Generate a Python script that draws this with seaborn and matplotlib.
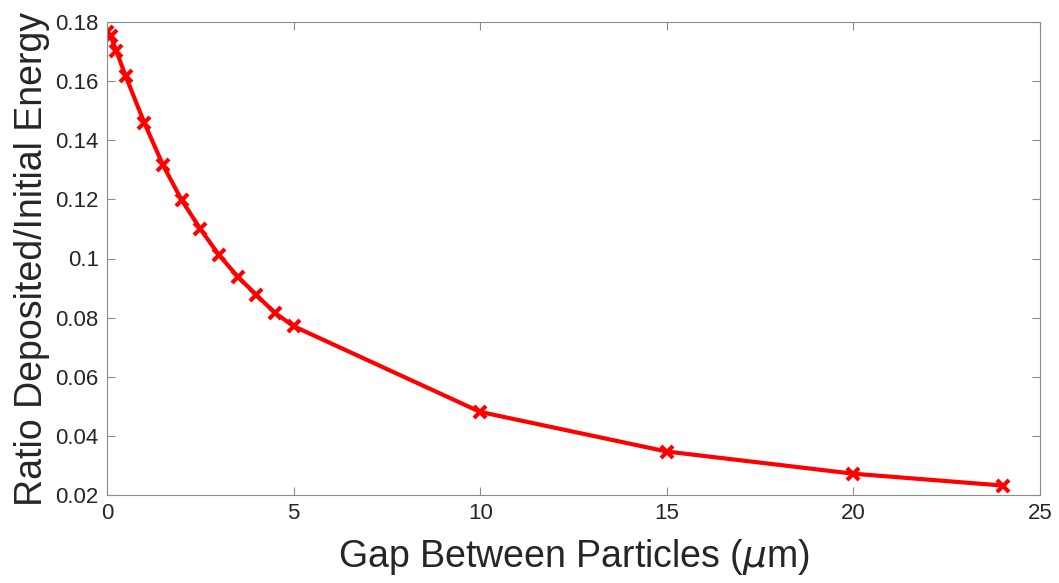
import matplotlib
matplotlib.use('Agg')
import matplotlib.pyplot as plt
import matplotlib.ticker as mticker
import pandas as pd
import seaborn as sns

# gap between particles (um) and ratio of deposited / initial energy
gap = [0, 0.1, 0.25, 0.5, 1, 1.5, 2, 2.5, 3, 3.5, 4, 4.5, 5, 10, 15, 20, 24]
ratio = [0.1765, 0.1752, 0.1702, 0.1617, 0.1459, 0.1316, 0.1198, 0.1100,
         0.1012, 0.0939, 0.0877, 0.0816, 0.0771, 0.0481, 0.0347, 0.0272, 0.0232]

x_ticks = [0, 5, 10, 15, 20, 25]
y_ticks = [0.02, 0.04, 0.06, 0.08, 0.1, 0.12, 0.14, 0.16, 0.18]

df = pd.DataFrame({'gap': gap, 'ratio': ratio})

sns.set_theme(style="white")
plt.rcParams['font.family'] = ['Liberation Sans', 'DejaVu Sans']
plt.rcParams['xtick.direction'] = 'in'
plt.rcParams['ytick.direction'] = 'in'

fig = plt.figure(figsize=(10.59, 5.83), dpi=100)
ax = fig.add_axes([107 / 1059, 1 - 495 / 583, (1040 - 107) / 1059, (495 - 22) / 583])

sns.lineplot(data=df, x='gap', y='ratio', ax=ax, color='#ff0000', linewidth=3.0,
             marker='x', markersize=8, markeredgewidth=3.0, markeredgecolor='#ff0000')

ax.set_xlim(0, 25)
ax.set_ylim(0.02, 0.18)
ax.set_xticks(x_ticks)
ax.set_yticks(y_ticks)
ax.yaxis.set_major_formatter(mticker.FuncFormatter(lambda v, p: '%g' % round(v, 3)))

for s in ax.spines.values():
    s.set_color('#8c8c8c')
    s.set_linewidth(0.8)
ax.tick_params(axis='both', which='both', length=6, width=0.8, color='#8c8c8c',
               labelsize=16, labelcolor='#262626', top=True, right=True,
               bottom=True, left=True, pad=6)

ax.set_xlabel('Gap Between Particles ($\\mu$m)', fontsize=27, color='#262626', labelpad=9)
ax.set_ylabel('Ratio Deposited/Initial Energy', fontsize=27, color='#262626', labelpad=4)

fig.savefig('out.png', dpi=100, facecolor='white')
